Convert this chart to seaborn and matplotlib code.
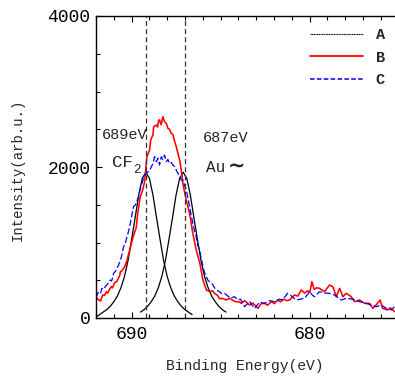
import numpy as np
import pandas as pd
import matplotlib
matplotlib.use("Agg")
import matplotlib.pyplot as plt
from matplotlib.lines import Line2D
from matplotlib.ticker import MultipleLocator
import seaborn as sns

# ---- data (binding energy in eV, intensity in arb. u.) ----
red_energy = [691.98, 691.91, 691.74, 691.63, 691.52, 691.42, 691.35, 691.24, 691.14, 691.07,
              690.96, 690.84, 690.77, 690.67, 690.63, 690.56, 690.39, 690.26, 690.21, 690.11,
              689.93, 689.74, 689.66, 689.52, 689.37, 689.27, 689.14, 688.99, 688.93, 688.80,
              688.76, 688.61, 688.54, 688.48, 688.43, 688.34, 688.24, 688.15, 688.05, 687.96,
              687.87, 687.77, 687.68, 687.58, 687.49, 687.40, 687.30, 687.21, 687.12, 686.93,
              686.74, 686.56, 686.37, 686.18, 685.99, 685.80, 685.62, 685.45, 685.34, 685.17,
              685.06, 684.89, 684.68, 684.49, 684.21, 683.93, 683.84, 683.65, 683.37, 683.20,
              682.90, 682.72, 682.53, 682.36, 682.15, 681.97, 681.80, 681.63, 681.46, 681.29,
              681.12, 680.96, 680.84, 680.66, 680.47, 680.28, 680.11, 679.98, 679.87, 679.74,
              679.61, 679.44, 679.16, 678.88, 678.69, 678.50, 678.31, 678.13, 677.94, 677.66,
              677.47, 677.19, 676.91, 676.63, 676.44, 676.27, 676.04, 675.90, 675.62, 675.46,
              675.23]
red_counts = [282, 250, 225, 305, 300, 348, 330, 380, 415, 400,
              468, 480, 512, 560, 613, 620, 680, 760, 812, 900,
              1060, 1200, 1380, 1600, 1700, 1805, 2136, 2225, 2358, 2424,
              2534, 2556, 2530, 2622, 2622, 2560, 2667, 2600, 2578, 2512,
              2500, 2446, 2430, 2336, 2270, 2181, 2093, 1960, 1780, 1563,
              1387, 1122, 900, 740, 503, 371, 350, 360, 327, 300,
              255, 260, 238, 261, 220, 210, 194, 230, 172, 200,
              128, 190, 194, 170, 216, 190, 238, 215, 250, 230,
              238, 280, 305, 290, 371, 330, 360, 340, 481, 380,
              400, 393, 348, 437, 415, 282, 393, 282, 327, 282,
              216, 238, 194, 194, 128, 170, 238, 128, 106, 135,
              84]

blue_energy = [692.04, 691.97, 691.85, 691.74, 691.67, 691.57, 691.48, 691.35, 691.20, 691.12,
               691.01, 690.90, 690.83, 690.73, 690.63, 690.56, 690.45, 690.34, 690.26, 690.17,
               690.07, 690.00, 689.89, 689.78, 689.61, 689.52, 689.42, 689.33, 689.23, 689.16,
               689.04, 688.93, 688.80, 688.71, 688.61, 688.52, 688.43, 688.33, 688.24, 688.15,
               688.05, 687.96, 687.87, 687.77, 687.68, 687.58, 687.49, 687.40, 687.30, 687.21,
               687.12, 687.02, 686.93, 686.84, 686.74, 686.65, 686.56, 686.46, 686.37, 686.28,
               686.18, 686.08, 685.99, 685.90, 685.80, 685.71, 685.62, 685.52, 685.43, 685.34,
               685.24, 685.15, 685.06, 684.94, 684.78, 684.59, 684.44, 684.21, 684.04, 683.88,
               683.65, 683.37, 683.09, 682.81, 682.53, 682.25, 681.97, 681.69, 681.52, 681.24,
               681.07, 680.75, 680.28, 680.00, 679.83, 679.72, 679.44, 679.16, 678.88, 678.60,
               678.22, 677.94, 677.57, 677.19, 676.82, 676.54, 676.26, 675.97, 675.69, 675.41,
               675.23]
blue_counts = [305, 290, 348, 330, 393, 380, 415, 450, 503, 490,
               592, 620, 658, 700, 768, 820, 944, 1000, 1077, 1150,
               1254, 1350, 1475, 1500, 1607, 1700, 1784, 1850, 1894, 1920,
               1940, 1980, 2048, 2136, 2070, 2115, 2026, 2136, 2100, 2159,
               2070, 2100, 2048, 2060, 2026, 2004, 1960, 1916, 1880, 1828,
               1828, 1760, 1695, 1600, 1475, 1360, 1254, 1150, 1077, 960,
               900, 780, 680, 600, 547, 500, 481, 470, 437, 400,
               371, 360, 348, 320, 327, 290, 265, 282, 240, 250,
               150, 216, 128, 210, 194, 230, 216, 250, 238, 327,
               300, 238, 261, 348, 300, 282, 348, 330, 327, 305,
               238, 261, 250, 216, 194, 172, 150, 170, 128, 106,
               150]

# fitted components (black)
fit1_energy = [692.0, 691.8, 691.6, 691.4, 691.2, 691.0, 690.8, 690.6, 690.4, 690.2,
               690.0, 689.8, 689.6, 689.4, 689.2, 689.0, 688.8, 688.6, 688.4, 688.2,
               688.0, 687.8, 687.6, 687.4, 687.2, 687.0, 686.8, 686.6]
fit1_counts = [12, 45, 78, 110, 155, 215, 290, 400, 550, 760,
               1040, 1330, 1630, 1850, 1930, 1850, 1630, 1330, 1040, 760,
               550, 400, 290, 215, 155, 110, 78, 45]
fit2_energy = [689.5, 689.3, 689.1, 688.9, 688.7, 688.5, 688.3, 688.1, 687.9, 687.7,
               687.5, 687.3, 687.1, 686.9, 686.7, 686.5, 686.3, 686.1, 685.9, 685.7,
               685.5, 685.3, 685.1, 684.9, 684.7]
fit2_counts = [78, 110, 155, 215, 290, 400, 550, 760, 1040, 1330,
               1630, 1850, 1930, 1850, 1630, 1330, 1040, 760, 550, 400,
               290, 215, 155, 110, 78]

peak_lines = [689.2, 687.0]
legend_labels = ["A", "B", "C"]

# ---- style ----
sns.set_style("ticks")
mono = ["Liberation Mono", "DejaVu Sans Mono"]
plt.rcParams["font.family"] = mono

fig = plt.figure(figsize=(3.95, 3.76), dpi=100)
ax = fig.add_axes([96 / 395, 58 / 376, 299 / 395, 302 / 376])

red_df = pd.DataFrame({"energy": red_energy, "counts": red_counts})
blue_df = pd.DataFrame({"energy": blue_energy, "counts": blue_counts})
fit1_df = pd.DataFrame({"energy": fit1_energy, "counts": fit1_counts})
fit2_df = pd.DataFrame({"energy": fit2_energy, "counts": fit2_counts})

for df in (fit1_df, fit2_df):
    sns.lineplot(data=df, x="energy", y="counts", ax=ax, color="black",
                 linewidth=0.9, estimator=None, sort=False)
sns.lineplot(data=red_df, x="energy", y="counts", ax=ax, color="red",
             linewidth=1.15, estimator=None, sort=False)
sns.lineplot(data=blue_df, x="energy", y="counts", ax=ax, color="blue",
             linewidth=0.9, linestyle=(0, (5, 2)), estimator=None, sort=False)

for e in peak_lines:
    ax.axvline(e, color="#333333", linestyle=(0, (4, 2.5)), linewidth=0.9)

ax.set_xlim(692.0, 675.2)
ax.set_ylim(0, 4000)
ax.xaxis.set_major_locator(MultipleLocator(10))
ax.xaxis.set_minor_locator(MultipleLocator(1))
ax.yaxis.set_major_locator(MultipleLocator(2000))
ax.yaxis.set_minor_locator(MultipleLocator(500))
ax.tick_params(which="both", direction="in", top=True, right=False, colors="black")
ax.tick_params(which="major", length=4, width=0.8, labelsize=13)
ax.tick_params(which="minor", length=3, width=0.8)
ax.tick_params(axis="x", pad=6)
ax.tick_params(axis="y", pad=4)
ax.spines["right"].set_visible(False)
for s in ("left", "top", "bottom"):
    ax.spines[s].set_linewidth(1.0)
    ax.spines[s].set_color("black")

ax.set_xlabel("Binding Energy(eV)", fontsize=10.5)
ax.set_ylabel("Intensity(arb.u.)", fontsize=10)
ax.xaxis.set_label_coords(0.498, -0.135)
ax.yaxis.set_label_coords(-0.24, 0.49)

# peak annotations
ax.text(690.39, 2424, "689eV", fontsize=11, ha="center", va="center")
ax.text(684.72, 2384, "687eV", fontsize=11, ha="center", va="center")
ax.text(691.12, 2053, "CF", fontsize=12.5, ha="left", va="center")
ax.text(689.90, 1955, "2", fontsize=9, ha="left", va="center")
ax.text(685.84, 2000, "Au", fontsize=11.5, ha="left", va="center")
ax.text(684.62, 2010, "\u223c", fontsize=15, ha="left", va="center",
        family="DejaVu Sans", weight="bold")

handles = [Line2D([], [], color="black", linestyle=(0, (1, 0.5)), linewidth=0.8),
           Line2D([], [], color="red", linewidth=1.3),
           Line2D([], [], color="blue", linestyle=(0, (3, 1.5)), linewidth=1.1)]
leg = ax.legend(handles, legend_labels, loc="upper left", bbox_to_anchor=(0.69, 0.985),
                frameon=False, handlelength=3.5, handletextpad=0.8, labelspacing=0.55,
                borderpad=0, prop={"family": mono, "weight": "bold", "size": 11})

fig.savefig("out.png", dpi=100)
